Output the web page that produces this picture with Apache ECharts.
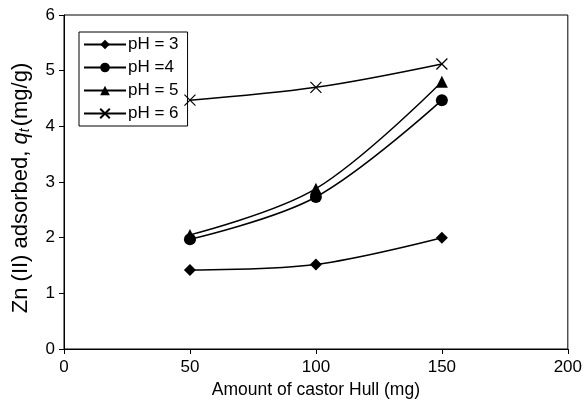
<!DOCTYPE html>
<html><head><meta charset="utf-8">
<script src="https://cdn.jsdelivr.net/npm/echarts@6/dist/echarts.min.js"></script>
<style>html,body{margin:0;padding:0;background:#fff}#c{width:585px;height:407px}</style>
</head><body><div id="c"></div>
<script>
const xValues = [50, 100, 150];
const ph3 = [1.42, 1.52, 2.0];
const ph4 = [1.97, 2.73, 4.47];
const ph5 = [2.05, 2.88, 4.8];
const ph6 = [4.47, 4.7, 5.12];
const seriesNames = ['pH = 3', 'pH =4', 'pH = 5', 'pH = 6'];
const xTicks = [0, 50, 100, 150, 200];
const yTicks = [0, 1, 2, 3, 4, 5, 6];

const FONT = 'Liberation Sans, Arial, sans-serif';
const crossPath = 'path://M0,0L10,10M10,0L0,10';
const symbols = ['diamond', 'circle', 'triangle', crossPath];
const sizes = [12, 12, 12, 11];
const allData = [ph3, ph4, ph5, ph6];

const chart = echarts.init(document.getElementById('c'));
chart.setOption({
  animation: false,
  backgroundColor: '#fff',
  grid: { left: 64, right: 16, top: 15, bottom: 58, show: true, borderColor: '#000', borderWidth: 1 },
  legend: {
    orient: 'vertical', left: 79, top: 32,
    borderColor: '#000', borderWidth: 1, padding: [4, 9, 4, 4],
    itemWidth: 42, itemHeight: 12, itemGap: 6,
    textStyle: { fontFamily: FONT, fontSize: 17, color: '#000', padding: [0, 0, 0, -3] },
    data: seriesNames
  },
  xAxis: {
    type: 'value', min: 0, max: 200, interval: 50,
    name: 'Amount of castor Hull (mg)', nameLocation: 'middle', nameGap: 30,
    nameTextStyle: { fontFamily: FONT, fontSize: 17.5, color: '#000' },
    axisLine: { lineStyle: { color: '#000' } },
    axisTick: { show: true, length: 5, lineStyle: { color: '#000' } },
    axisLabel: { fontFamily: FONT, fontSize: 17, color: '#000', margin: 10,
      formatter: v => xTicks.includes(v) ? String(v) : '' },
    splitLine: { show: false }
  },
  yAxis: {
    type: 'value', min: 0, max: 6, interval: 1,
    name: '{n|Zn (II) adsorbed, }{q|q}{s|t}{n|(mg/g)}', nameLocation: 'middle', nameGap: 32, nameRotate: 90,
    nameTextStyle: {
      fontFamily: FONT, fontSize: 22, color: '#000', padding: [0, 12, 0, 0],
      rich: {
        n: { fontFamily: FONT, fontSize: 22, color: '#000' },
        q: { fontFamily: FONT, fontSize: 22, color: '#000', fontStyle: 'italic' },
        s: { fontFamily: FONT, fontSize: 14, color: '#000', fontStyle: 'italic', verticalAlign: 'bottom', padding: [9, 2, 0, 0] }
      }
    },
    axisLine: { show: true, lineStyle: { color: '#000' } },
    axisTick: { show: true, length: 5, lineStyle: { color: '#000' } },
    axisLabel: { fontFamily: FONT, fontSize: 17, color: '#000', margin: 9,
      formatter: v => yTicks.includes(v) ? String(v) : '' },
    splitLine: { show: false }
  },
  series: allData.map((d, i) => ({
    name: seriesNames[i], type: 'line', smooth: 0.35,
    data: xValues.map((x, j) => [x, d[j]]),
    symbol: symbols[i], symbolSize: sizes[i],
    lineStyle: { color: '#000', width: 1.5 },
    itemStyle: { color: i === 3 ? 'rgba(0,0,0,0)' : '#000', borderColor: '#000', borderWidth: i === 3 ? 1.2 : 0 }
  }))
});
</script></body></html>
